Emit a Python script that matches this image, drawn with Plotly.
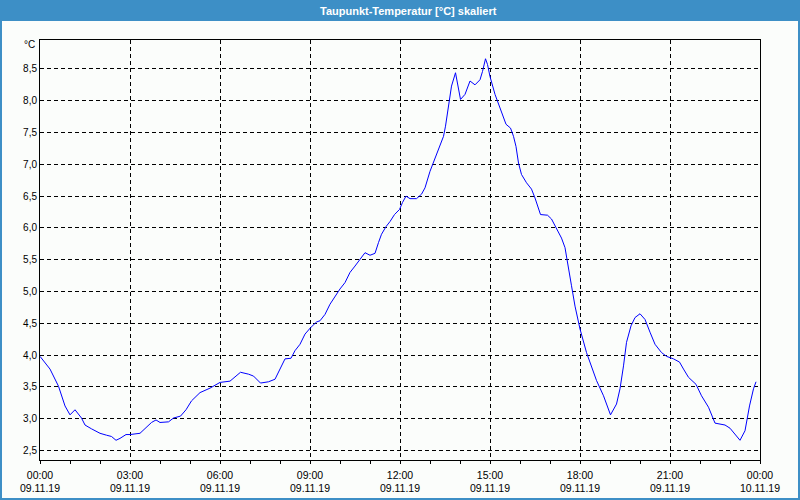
import plotly.graph_objects as go

DATE = "2019-11-09"

times = ["00:00","00:20","00:37","00:50","01:00","01:10","01:23","01:30","01:43","02:00",
         "02:13","02:23","02:32","02:40","02:52","03:00","03:20","03:43","03:52","04:00",
         "04:17","04:27","04:41","04:52","05:03","05:20","05:40","05:50","06:00","06:20",
         "06:41","06:57","07:07","07:21","07:37","07:50","08:00","08:10","08:22","08:30",
         "08:40","08:50","09:01","09:13","09:20","09:30","09:40","09:50","10:00","10:10",
         "10:20","10:30","10:40","10:50","11:00","11:10","11:17","11:23","11:32","11:40",
         "11:49","11:59","12:05","12:12","12:20","12:33","12:43","12:50","13:00","13:10",
         "13:20","13:27","13:31","13:37","13:43","13:51","13:55","14:01","14:10","14:15",
         "14:20","14:30","14:40","14:45","14:51","14:55","15:00","15:10","15:17","15:23",
         "15:32","15:41","15:47","15:52","15:57","16:03","16:13","16:23","16:30","16:41",
         "16:55","17:03","17:13","17:23","17:30","17:37","17:43","17:50","18:00","18:13",
         "18:23","18:33","18:47","19:01","19:13","19:20","19:27","19:33","19:42","19:50",
         "20:00","20:10","20:20","20:30","20:43","20:53","21:07","21:19","21:27","21:37",
         "21:52","22:03","22:17","22:30","22:50","23:00","23:20","23:30","23:39","23:47",
         "23:52"]

dewpoint = [3.98,3.78,3.51,3.20,3.06,3.14,3.01,2.90,2.84,2.77,
            2.74,2.72,2.66,2.69,2.75,2.75,2.77,2.94,2.98,2.94,
            2.95,3.01,3.04,3.14,3.28,3.41,3.48,3.52,3.57,3.59,
            3.73,3.70,3.67,3.56,3.58,3.62,3.79,3.94,3.95,4.07,
            4.17,4.33,4.43,4.52,4.54,4.64,4.80,4.93,5.04,5.14,
            5.30,5.40,5.51,5.61,5.57,5.60,5.77,5.90,6.02,6.10,
            6.21,6.29,6.40,6.50,6.46,6.46,6.53,6.63,6.89,7.10,
            7.28,7.44,7.60,7.91,8.23,8.44,8.28,8.02,8.10,8.20,
            8.31,8.25,8.33,8.46,8.66,8.57,8.38,8.10,7.94,7.81,
            7.63,7.57,7.44,7.28,7.02,6.84,6.71,6.61,6.47,6.21,
            6.20,6.14,5.99,5.84,5.69,5.40,5.09,4.77,4.41,4.04,
            3.83,3.60,3.36,3.06,3.23,3.47,3.83,4.20,4.46,4.59,
            4.65,4.56,4.36,4.17,4.04,3.98,3.94,3.89,3.78,3.65,
            3.54,3.36,3.18,2.93,2.90,2.85,2.66,2.81,3.20,3.47,
            3.58]

tick_vals = ["2019-11-09 00:00","2019-11-09 03:00","2019-11-09 06:00","2019-11-09 09:00",
             "2019-11-09 12:00","2019-11-09 15:00","2019-11-09 18:00","2019-11-09 21:00",
             "2019-11-10 00:00"]
tick_times = ["00:00","03:00","06:00","09:00","12:00","15:00","18:00","21:00","00:00"]
tick_dates = ["09.11.19","09.11.19","09.11.19","09.11.19","09.11.19",
              "09.11.19","09.11.19","09.11.19","10.11.19"]
y_ticks = [2.5,3.0,3.5,4.0,4.5,5.0,5.5,6.0,6.5,7.0,7.5,8.0,8.5]

x = [f"{DATE} {t}" for t in times]
tick_text = [a + "<br>" + b for a, b in zip(tick_times, tick_dates)]

BG = "#FBFDFB"
BLUE_BAR = "#3D8FC6"
FONT = "Liberation Sans"

fig = go.Figure()
fig.add_trace(go.Scatter(x=x, y=dewpoint, mode="lines",
                         line=dict(color="#0000FF", width=1), showlegend=False,
                         hoverinfo="skip"))

W, H = 800, 500
L, R, T, B = 40, 40, 40, 40
pw, ph = W - L - R, H - T - B
def px(v):
    return (v - L) / pw
def py(v):
    return (H - B - v) / ph

fig.update_layout(
    width=W, height=H,
    margin=dict(l=L, r=R, t=T, b=B, autoexpand=False),
    paper_bgcolor=BG, plot_bgcolor=BG,
    separators=",.",
    font=dict(family=FONT, size=10, color="#000000"),
    showlegend=False,
    shapes=[
        dict(type="rect", xref="paper", yref="paper",
             x0=px(0), x1=px(800), y0=py(21), y1=py(0),
             fillcolor=BLUE_BAR, line=dict(width=0), layer="above"),
        dict(type="rect", xref="paper", yref="paper",
             x0=px(1), x1=px(799), y0=py(499), y1=py(1),
             fillcolor="rgba(0,0,0,0)", line=dict(color=BLUE_BAR, width=2), layer="above"),
    ],
    annotations=[
        dict(text="Taupunkt-Temperatur [°C] skaliert", xref="paper", yref="paper",
             x=px(408), y=py(10.5), xanchor="center", yanchor="middle", showarrow=False,
             font=dict(family=FONT, size=11, color="#FFFFFF", weight="bold")),
        dict(text="°C", xref="paper", yref="paper", x=px(37), y=py(45),
             xanchor="right", yanchor="middle", showarrow=False,
             font=dict(family=FONT, size=10, color="#000000")),
    ],
)

fig.update_xaxes(
    type="date", automargin=False,
    range=["2019-11-09 00:00", "2019-11-10 00:00"],
    tickmode="array", tickvals=tick_vals, ticktext=tick_text,
    ticks="outside", ticklen=3, tickcolor="#000000", tickwidth=1,
    ticklabelstandoff=2,
    minor=dict(dtick=3600000, ticks="outside", ticklen=3, tickcolor="#000000",
               tickwidth=1, showgrid=False),
    showgrid=True, gridcolor="#000000", gridwidth=1, griddash="4px,3px",
    showline=True, linecolor="#000000", linewidth=1, mirror=True,
    zeroline=False, tickfont=dict(family=FONT, size=10.5, color="#000000"),
    fixedrange=True,
)
fig.update_yaxes(
    automargin=False,
    range=[2.35, 8.955],
    tickmode="array", tickvals=y_ticks, tickformat=".1f",
    ticks="", showgrid=True, gridcolor="#000000", gridwidth=1, griddash="4px,3px",
    showline=True, linecolor="#000000", linewidth=1, mirror=True,
    zeroline=False, tickfont=dict(family=FONT, size=10, color="#000000"),
    fixedrange=True,
)

fig.write_html("out.html", config={"displayModeBar": False, "staticPlot": True},
               post_script="document.body.style.margin='0';document.body.style.overflow='hidden';")
